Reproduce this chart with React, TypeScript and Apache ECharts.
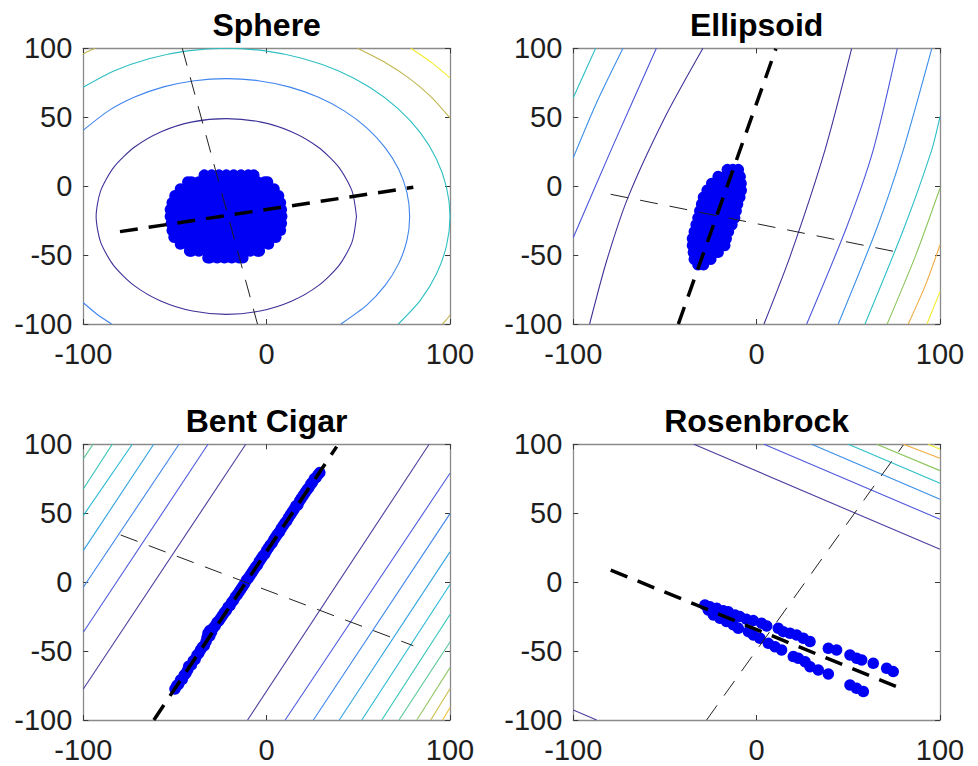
import React, { useEffect, useRef } from 'react';
import * as echarts from 'echarts';

type Pt = [number, number];

const FONT = "'Liberation Sans', Arial, Helvetica, sans-serif";

// ---------- titles & ticks ----------
const titles = ['Sphere', 'Ellipsoid', 'Bent Cigar', 'Rosenbrock'];
const axisMin = -100;
const axisMax = 100;
const xTickStep = 100;
const yTickStep = 50;

// ---------- Sphere ----------
const sphereContours: Pt[][] = [
  [[49, -22], [46.6, -3.6], [39.5, 13.5], [28.2, 28.2], [13.5, 39.5], [-3.6, 46.6], [-22, 49], [-40.4, 46.6],
   [-57.5, 39.5], [-72.2, 28.2], [-83.5, 13.5], [-90.6, -3.6], [-93, -22], [-90.6, -40.4], [-83.5, -57.5],
   [-72.2, -72.2], [-57.5, -83.5], [-40.4, -90.6], [-22, -93], [-3.6, -90.6], [13.5, -83.5], [28.2, -72.2],
   [39.5, -57.5], [46.6, -40.4], [49, -22]],
  [[-100, 40.6], [-86.3, 54.6], [-72, 64.6], [-56.2, 72], [-39.4, 76.5], [-22, 78], [-4.6, 76.5], [12.2, 72],
   [28, 64.6], [42.3, 54.6], [54.6, 42.3], [64.6, 28], [72, 12.2], [76.5, -4.6], [78, -22], [76.5, -39.4],
   [72, -56.2], [64.6, -72], [54.6, -86.3], [40.5, -100]],
  [[-100, -84.6], [-92.7, -92.7], [-84.6, -100]],
  [[-100, 71.8], [-83, 83.7], [-63.7, 92.6], [-43.2, 98.1], [-22, 100], [-0.8, 98.1], [19.7, 92.6], [39, 83.7],
   [56.4, 71.5], [71.5, 56.4], [83.7, 39], [92.6, 19.7], [98.1, -0.8], [100, -22], [98.1, -43.2], [92.6, -63.7],
   [83.7, -83], [71.8, -100]],
  [[49.5, 100], [65.1, 89.4], [78, 78], [89.4, 65.1], [100, 49.5]],
  [[-100, 95.9], [-97, 98], [-93.5, 100]],
  [[100, -93.5], [98, -97], [95.9, -100]],
  [[78.6, 100], [89.8, 89.8], [100, 78.6]],
];
const sphereLevels = [0, 1, 1, 2, 3, 3, 3, 4];
const sphereRows: [number, number[]][] = [
  [8, [-34, -30, -26, -22, -18, -14, -10, -7]],
  [3, [-43, -41, -37, -33, -29, -25, -21, -17, -13, -9, -5, -1, 0.5]],
  [-2, [-47, -43, -39, -35, -31, -27, -23, -19, -15, -11, -7, -3, 1, 4]],
  [-7, [-50, -45, -41, -37, -33, -29, -25, -21, -17, -13, -9, -5, -1, 3, 6.5]],
  [-12, [-51.5, -47, -43, -39, -35, -31, -27, -23, -19, -15, -11, -7, -3, 1, 5, 7.5]],
  [-17, [-52.5, -49, -45, -41, -37, -33, -29, -25, -21, -17, -13, -9, -5, -1, 3, 8]],
  [-22, [-52.5, -47, -43, -39, -35, -31, -27, -23, -19, -15, -11, -7, -3, 1, 5, 8.2]],
  [-27, [-52, -49, -45, -41, -37, -33, -29, -25, -21, -17, -13, -9, -5, -1, 3, 8]],
  [-32, [-51.5, -47, -43, -39, -35, -31, -27, -23, -19, -15, -11, -7, -3, 1, 5, 7.5]],
  [-37, [-50.5, -49, -45, -41, -37, -33, -29, -25, -21, -17, -13, -9, -5, -1, 3, 5]],
  [-42, [-47, -43, -39, -35, -31, -27, -23, -19, -15, -11, -7, -3, 1]],
  [-47, [-42, -41, -37, -33, -29, -25, -21, -17, -13, -9, -5, -4]],
  [-52, [-32, -31, -27, -23, -19, -15, -13]],
];
const sphereMajor: Pt[] = [[-80, -33], [80, -0.85]];
const sphereMinor: Pt[] = [[-46, 100], [-5, -100]];

// ---------- Ellipsoid ----------
const ellipsoidContours: Pt[][] = [
  [[-100, 64.2], [-93.8, 82.5], [-87.8, 100]],
  [[-100, 20.7], [-87.5, 60], [-72.9, 100]],
  [[-100, -37.3], [-78.4, 29.2], [-54.7, 100]],
  [[-91.1, -100], [-82, -55], [-70.2, -8.3], [-50, 50], [-29.3, 100]],
  [[4, -100], [18.5, -50], [37.3, 26.3], [51.8, 99.7]],
  [[27.3, -100], [49, -30], [63.6, 26.3], [76.7, 99.7]],
  [[44.5, -100], [65.7, -30], [80, 26.3], [95.5, 99.7]],
  [[59.1, -100], [80.5, -30], [95.5, 26.3], [100, 50.4]],
  [[71.2, -100], [86.8, -50], [100, -1.5]],
  [[82.7, -100], [92, -72], [100, -42.7]],
  [[92.9, -100], [100, -76.5]],
];
const ellipsoidLevels = [3, 2, 1, 0, 0, 1, 2, 3, 4, 5, 6];
const ellipsoidRows: [number, number[]][] = [
  [12, [-16, -13, -10]],
  [7, [-21, -17, -13, -9]],
  [2, [-24.5, -20.5, -16.5, -12.5, -8.5]],
  [-3, [-27, -23, -19, -15, -11, -8.4]],
  [-8, [-29, -25, -21, -17, -13, -9.2]],
  [-13, [-30, -26, -22, -18, -14, -10.4]],
  [-18, [-31, -27, -23, -19, -15, -11.2]],
  [-23, [-32, -28, -24, -20, -16, -12]],
  [-28, [-33, -29, -25, -21, -17, -13.5]],
  [-33, [-34, -30, -26, -22, -18, -15.4]],
  [-38, [-35, -31, -27, -23, -19, -16.6]],
  [-43, [-35, -31, -27, -23, -19, -17.4]],
  [-48, [-34.5, -30.5, -26.5, -22.5, -21]],
  [-53, [-34, -30, -25]],
  [-57, [-32, -29]],
];
const ellipsoidMajor: Pt[] = [[-42.7, -100], [10.5, 99.7]];
const ellipsoidMinor: Pt[] = [[-79.6, -5.9], [80, -48.7]];

// ---------- Bent Cigar ----------
const cigarContours: Pt[][] = [
  [[-100, -77.5], [-11.4, 100]],
  [[-100, -36.3], [-32, 100]],
  [[-100, -3.7], [-47.8, 100]],
  [[-100, 22.9], [-61.6, 100]],
  [[-100, 48.3], [-73.3, 100]],
  [[-100, 67.6], [-84.2, 100]],
  [[-100, 89.4], [-94.7, 100]],
  [[-10.4, -100], [88.6, 100]],
  [[10.1, -100], [100, 79]],
  [[25.5, -100], [100, 49.7]],
  [[39.6, -100], [100, 22]],
  [[51.9, -100], [100, -1.7]],
  [[62.8, -100], [100, -23.5]],
  [[72.2, -100], [100, -43.4]],
  [[81.9, -100], [100, -62]],
  [[89.5, -100], [100, -77.3]],
  [[96, -100], [100, -91]],
];
const cigarLevels = [0, 1, 2, 3, 4, 5, 6, 0, 1, 2, 3, 4, 5, 6, 7, 8, 9];
const cigarPoints: Pt[] = [
  [-50, -77.5], [-49, -75], [-48, -74], [-47, -71], [-46, -70.5], [-45, -67.5], [-44, -66], [-43, -63.5],
  [-42.5, -61], [-41, -60], [-40, -57], [-39, -56], [-38, -53], [-37, -51.5], [-36, -49], [-35, -47],
  [-34, -46], [-33, -43], [-32.5, -40], [-31, -39], [-32, -37], [-30, -36], [-31, -35], [-29, -33],
  [-28, -31.5], [-27, -29], [-26, -28], [-25, -26], [-24, -24], [-23, -22], [-22, -20.5], [-21, -18],
  [-20, -17], [-19, -14.5], [-18, -13], [-17, -10.5], [-16, -9], [-15, -7], [-14, -5], [-13, -3],
  [-12, -1], [-11, 1.5], [-10, 3], [-9, 5], [-8, 7], [-7, 9], [-6, 11], [-5, 12.5], [-4, 15], [-3, 17],
  [-2, 19], [-1, 20.5], [0, 23], [1, 25], [2, 27], [3, 28.5], [4, 31], [5, 33], [6, 35], [7, 36.5],
  [8, 39], [9, 41], [10, 43], [11, 44.5], [12, 47], [13, 49], [14, 51], [15, 53], [16, 55.5], [17, 56],
  [18, 59], [19, 61], [20, 63], [21, 65], [22, 67], [23, 68.5], [24, 71], [25, 72.5], [26, 75], [27, 76],
  [28, 78], [29, 79.5],
];
const cigarMajor: Pt[] = [[-61.5, -100], [38.2, 98.3]];
const cigarMinor: Pt[] = [[-79.6, 34.2], [80, -46.1]];

// ---------- Rosenbrock ----------
const rosenContours: Pt[][] = [
  [[-34.2, 100], [100, 23.8]],
  [[4, 100], [100, 45.6]],
  [[30, 100], [100, 60.1]],
  [[50, 100], [100, 71.7]],
  [[65.5, 100], [100, 80.9]],
  [[80, 100], [100, 89.8]],
  [[93.6, 100], [100, 96.4]],
  [[-100, -92.7], [-87.3, -100]],
];
const rosenLevels = [0, 1, 2, 3, 4, 5, 6, 0];
const rosenPoints: Pt[] = [
  [-28.2, -16.5], [-25.5, -17.8], [-21.8, -19], [-18.2, -20.7], [-15.5, -21.4], [-11.8, -23.8], [-9.1, -25],
  [-5.5, -27], [-1.8, -27.9], [2.7, -29.8], [5.5, -31.8], [11.8, -33.5], [14.5, -35.9], [18.2, -37.1],
  [21.8, -38.3], [25.5, -40.7], [29.1, -43.1], [39.1, -48], [43.6, -49.2], [50.9, -52.8], [54.5, -55.2],
  [57.3, -56.4], [63.6, -58.9], [70.9, -62.5], [74.5, -64.9],
  [-26.4, -20.2], [-23.6, -23.8], [-20, -26.2], [-16.4, -28.6], [-12.7, -31], [-10, -33.5], [-4.5, -35.9],
  [-1.8, -38.3], [1.8, -40.7], [6.4, -44.4], [10, -46.8], [13.6, -49.2], [20, -54], [22.7, -55.2],
  [26.4, -57.7], [29.1, -61.3], [33.6, -63.7], [39.1, -66.6], [50.9, -74.6], [54.5, -77], [58.2, -79.4],
  [-24, -20.5], [-21, -22.5], [-18, -24], [-15, -25.5],
];
const rosenMajor: Pt[] = [[-79.6, 8.8], [80, -77.8]];
const rosenMinor: Pt[] = [[-27.3, -100], [80, 99.5]];

// ---------- styles ----------
const sphereColors = ['#3e3399', '#3f84ee', '#2dbfc2', '#c2b650', '#f3ec2c'];
const ellipsoidColors = ['#3e3399', '#4b56dc', '#3a8ee8', '#2cbfc6', '#8cc65c', '#f0ac40', '#f3ec2c'];
const cigarColors = ['#4a3f9e', '#4f5cdc', '#3f86ea', '#30a2e2', '#28b8d2', '#30c4b6', '#58c896', '#92c866', '#cbbd48', '#f2c23c'];
const rosenColors = ['#4a3f9e', '#5058dc', '#3a8ee8', '#2cbfc6', '#8cc65c', '#f0ac40', '#f3ec2c'];

const GRIDS = [
  { left: 83.3, top: 48.3 },
  { left: 573.3, top: 48.3 },
  { left: 83.3, top: 444.3 },
  { left: 573.3, top: 444.3 },
];
const GRID_W = 366.7;
const GRID_H = 275.7;
const TITLE_MID_Y = [25, 25, 421, 421];
const BOX = '#8a8a8a';
const TICK = '#3a3a3a';
const DOT = '#0000f5';
const DOT_SIZE = 11.5;

function flattenRows(rows: [number, number[]][]): Pt[] {
  const out: Pt[] = [];
  rows.forEach(([y, xs]) => xs.forEach((x) => out.push([x, y])));
  return out;
}

function panelSeries(
  pi: number,
  contours: Pt[][],
  levels: number[],
  colors: string[],
  points: Pt[],
  major: Pt[],
  minor: Pt[]
) {
  const base = { xAxisIndex: pi * 2, yAxisIndex: pi * 2, silent: true, animation: false };
  const s: any[] = contours.map((c, k) => ({
    ...base,
    type: 'line',
    data: c,
    smooth: 0.25,
    symbol: 'none',
    showSymbol: false,
    lineStyle: { color: colors[levels[k]], width: 1.1 },
    z: 1,
  }));
  s.push({
    ...base,
    type: 'scatter',
    data: points,
    symbol: 'circle',
    symbolSize: DOT_SIZE,
    itemStyle: { color: DOT, opacity: 1 },
    z: 2,
  });
  s.push({
    ...base,
    type: 'line',
    data: major,
    symbol: 'none',
    showSymbol: false,
    lineStyle: { color: '#000', width: 3.5, type: [18, 11] },
    z: 3,
  });
  s.push({
    ...base,
    type: 'line',
    data: minor,
    symbol: 'none',
    showSymbol: false,
    lineStyle: { color: '#222', width: 1, type: [18, 12] },
    z: 3,
  });
  return s;
}

function buildOption() {
  const xAxis: any[] = [];
  const yAxis: any[] = [];
  const grid = GRIDS.map((g) => ({ left: g.left, top: g.top, width: GRID_W, height: GRID_H, show: false }));
  const labelStyle = { fontSize: 29, fontFamily: FONT, color: '#1e1e1e' };
  GRIDS.forEach((_, i) => {
    const common = {
      type: 'value',
      gridIndex: i,
      min: axisMin,
      max: axisMax,
      splitLine: { show: false },
      axisLine: { show: true, onZero: false, lineStyle: { color: BOX, width: 1.3 } },
      axisTick: { show: true, inside: true, length: 5, lineStyle: { color: TICK, width: 1 } },
    };
    xAxis.push({ ...common, position: 'bottom', interval: xTickStep, axisLabel: { ...labelStyle, margin: 15 } });
    xAxis.push({ ...common, position: 'top', interval: xTickStep, axisLabel: { show: false } });
    yAxis.push({ ...common, position: 'left', interval: yTickStep, axisLabel: { ...labelStyle, margin: 11 } });
    yAxis.push({ ...common, position: 'right', interval: yTickStep, axisLabel: { show: false } });
  });

  const series = [
    ...panelSeries(0, sphereContours, sphereLevels, sphereColors, flattenRows(sphereRows), sphereMajor, sphereMinor),
    ...panelSeries(1, ellipsoidContours, ellipsoidLevels, ellipsoidColors, flattenRows(ellipsoidRows), ellipsoidMajor, ellipsoidMinor),
    ...panelSeries(2, cigarContours, cigarLevels, cigarColors, cigarPoints, cigarMajor, cigarMinor),
    ...panelSeries(3, rosenContours, rosenLevels, rosenColors, rosenPoints, rosenMajor, rosenMinor),
  ];

  const graphic = titles.map((t, i) => ({
    type: 'text',
    x: GRIDS[i].left + GRID_W / 2,
    y: TITLE_MID_Y[i],
    style: {
      text: t,
      fill: '#000',
      fontSize: 32,
      fontWeight: 'bold',
      fontFamily: FONT,
      align: 'center',
      verticalAlign: 'middle',
    },
  }));

  return {
    animation: false,
    backgroundColor: '#ffffff',
    grid,
    xAxis,
    yAxis,
    series,
    graphic,
  };
}

export default function App() {
  const ref = useRef<HTMLDivElement>(null);
  useEffect(() => {
    if (!ref.current) return;
    const chart = echarts.init(ref.current, undefined, { renderer: 'svg' });
    chart.setOption(buildOption() as any);
    return () => chart.dispose();
  }, []);
  return (
    <div
      ref={ref}
      style={{ position: 'fixed', left: 0, top: 0, width: 978, height: 766, background: '#fff' }}
    />
  );
}
